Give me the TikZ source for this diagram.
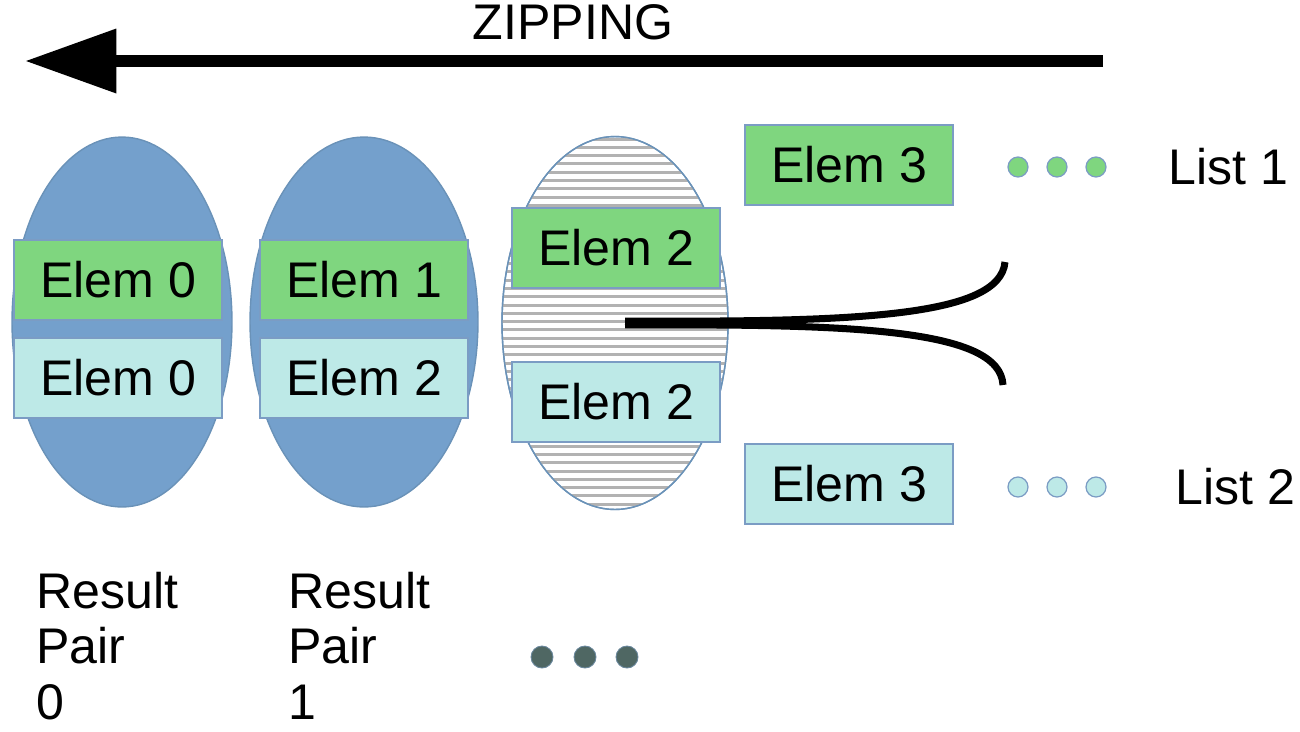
\documentclass[tikz,border=0pt]{standalone}
\usepackage{fontspec}
\setmainfont{Liberation Sans}
\usepackage{xcolor}
\usepackage{tikz}
\usetikzlibrary{shapes,shapes.geometric,arrows.meta,positioning}

\definecolor{pairblue}{HTML}{74A0CC}
\definecolor{pairedge}{HTML}{6A92B8}
\definecolor{listgreen}{HTML}{7FD67F}
\definecolor{listcyan}{HTML}{BDE9E7}
\definecolor{boxedge}{HTML}{7B9CC4}
\definecolor{moredots}{HTML}{4F6763}

\begin{document}
\begin{tikzpicture}[x=0.02cm,y=-0.02cm,
    txt/.style={font=\fontsize{28.5}{33}\selectfont, inner sep=0pt},
    pairblob/.style={ellipse, draw=pairedge, line width=0.8pt, inner sep=0pt},
    elembox/.style={txt, draw=boxedge, line width=0.8pt, minimum width=4.16cm, minimum height=1.6cm},
    elemA/.style={elembox, fill=listgreen},
    elemB/.style={elembox, fill=listcyan},
    dotA/.style={circle, draw=boxedge, fill=listgreen, line width=0.7pt, minimum size=0.4cm, inner sep=0pt},
    dotB/.style={circle, draw=boxedge, fill=listcyan, line width=0.7pt, minimum size=0.4cm, inner sep=0pt},
    dotC/.style={circle, draw=boxedge!60!moredots, fill=moredots, line width=0.5pt, minimum size=0.44cm, inner sep=0pt},
    zip/.style={line width=6.8pt, -{Triangle[length=52pt,width=35pt]}},
    fork/.style={line width=4pt, line cap=round},
    result/.style={txt, font=\fontsize{28.5}{31.5}\selectfont, anchor=north west, align=left}]
    \useasboundingbox (0,0) rectangle (1300,731);

    % direction arrow
    \node[txt] (title) at (573,22) {ZIPPING};
    \coordinate (zipstart) at (1103,61);
    \coordinate (zipend) at (25,61);
    \draw[zip] (zipstart) -- (zipend);

    % result pairs
    \node[pairblob, fill=pairblue, minimum width=4.4cm, minimum height=7.4cm] (pair0) at (122,322) {};
    \node[pairblob, fill=pairblue, minimum width=4.56cm, minimum height=7.4cm] (pair1) at (364,322) {};
    \node[pairblob, fill=white, minimum width=4.52cm, minimum height=7.46cm] (pair2) at (615,323) {};
    \begin{scope}
        \clip (615,323) ellipse [x radius=113, y radius=186.5];
        \foreach \y in {139,147.3,...,510}
            \draw[gray!60, line width=1.7pt] (490,\y) -- (740,\y);
    \end{scope}
    \draw[pairedge, line width=0.8pt] (pair2.center) ellipse [x radius=113, y radius=186.5];

    % elements
    \node[elemA] (a0) at (118,280) {Elem 0};
    \node[elemB] (b0) at (118,378) {Elem 0};
    \node[elemA] (a1) at (364,280) {Elem 1};
    \node[elemB] (b1) at (364,378) {Elem 2};
    \node[elemA] (a2) at (616,248) {Elem 2};
    \node[elemB] (b2) at (616,402) {Elem 2};
    \node[elemA] (a3) at (849,165) {Elem 3};
    \node[elemB] (b3) at (849,484) {Elem 3};

    % rest of the lists
    \foreach \x [count=\i] in {1018,1057,1096} {
        \node[dotA] (ga\i) at (\x,167) {};
        \node[dotB] (gb\i) at (\x,487) {};
    }
    \node[txt, anchor=west] (list1) at (1168,167) {List 1};
    \node[txt, anchor=west] (list2) at (1175,487) {List 2};

    % the zipper
    \coordinate (hub) at (625,323);
    \coordinate (up) at (1005,262);
    \coordinate (low) at (1003,385);
    \draw[fork, line cap=butt] ([yshift=1.1pt]hub) .. controls (850,322) and (1000,318) .. (up);
    \draw[fork, line cap=butt] ([yshift=-1.1pt]hub) .. controls (850,324) and (1000,328) .. (low);

    % labels
    \node[result] (res0) at (36,572) {Result\\Pair\\0};
    \node[result] (res1) at (288,572) {Result\\Pair\\1};
    \foreach \x [count=\i] in {542,585,627}
        \node[dotC] (more\i) at (\x,657) {};
\end{tikzpicture}
\end{document}
